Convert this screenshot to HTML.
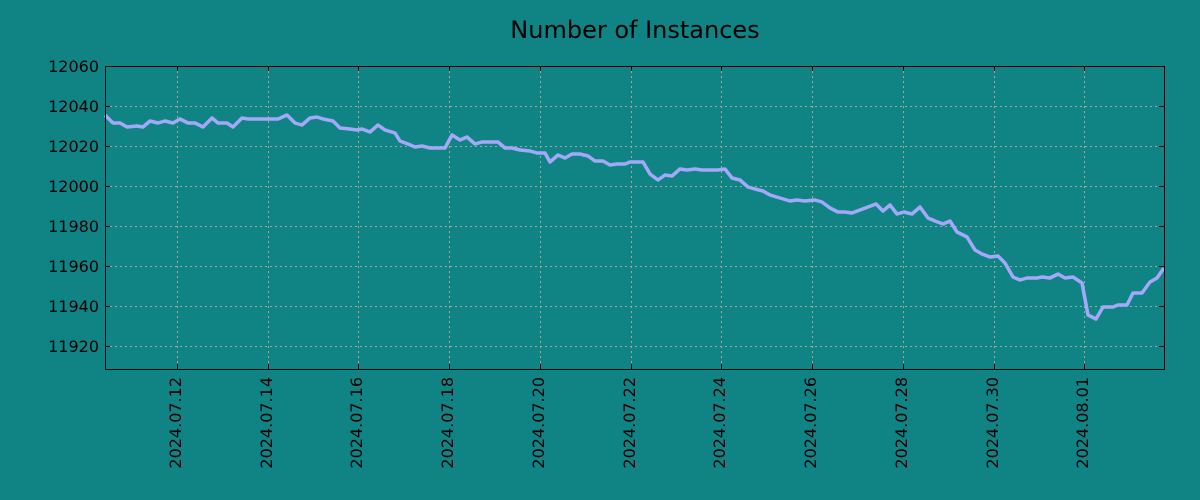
<!DOCTYPE html>
<html><head><style>
html,body{margin:0;padding:0;background:#108385;overflow:hidden;width:1200px;height:500px;}
svg{display:block;}
svg text{font-family:"DejaVu Sans","Liberation Sans",sans-serif;fill:#000;}
</style></head><body>
<svg width="1200" height="500" xmlns="http://www.w3.org/2000/svg">
<rect width="1200" height="500" fill="#108385"/>
<text x="635" y="38" font-size="24" text-anchor="middle">Number of Instances</text>
<g stroke="#c8b4a0" stroke-width="1" stroke-dasharray="2,3" opacity="0.8">
<line x1="105" x2="1164" y1="66.5" y2="66.5"/><line x1="105" x2="1164" y1="106.5" y2="106.5"/>
<line x1="105" x2="1164" y1="146.5" y2="146.5"/><line x1="105" x2="1164" y1="186.5" y2="186.5"/>
<line x1="105" x2="1164" y1="226.5" y2="226.5"/><line x1="105" x2="1164" y1="266.5" y2="266.5"/>
<line x1="105" x2="1164" y1="306.5" y2="306.5"/><line x1="105" x2="1164" y1="346.5" y2="346.5"/>
<line y1="66" y2="369" x1="177.5" x2="177.5"/><line y1="66" y2="369" x1="268.5" x2="268.5"/>
<line y1="66" y2="369" x1="358.5" x2="358.5"/><line y1="66" y2="369" x1="449.5" x2="449.5"/>
<line y1="66" y2="369" x1="540.5" x2="540.5"/><line y1="66" y2="369" x1="631.5" x2="631.5"/>
<line y1="66" y2="369" x1="721.5" x2="721.5"/><line y1="66" y2="369" x1="812.5" x2="812.5"/>
<line y1="66" y2="369" x1="903.5" x2="903.5"/><line y1="66" y2="369" x1="994.5" x2="994.5"/>
<line y1="66" y2="369" x1="1084.5" x2="1084.5"/>
</g>
<polyline fill="none" stroke="#a4a8f8" stroke-width="3.5" stroke-linejoin="round" points="105,115 113,123 120,123 127,127 137,126 143,127 150,121 158,123 165,121 173,123 180,119 188,123 195,123 203,127 212,118 218,123 227,123 233,127 242,118 248,119 278,119 287,115 295,123 302,125 310,118 317,117 323,119 333,121 340,128 350,129 357,130 362,129 370,132 378,125 385,130 395,133 400,141 408,144 415,147 422,146 430,148 445,148 452,135 460,140 467,137 475,144 482,142 498,142 505,148 512,148 520,150 530,151 537,153 545,153 550,162 558,155 565,158 572,154 580,154 588,156 595,161 603,161 610,165 617,164 625,164 630,162 643,162 650,174 658,180 665,175 672,176 680,169 687,170 695,169 702,170 718,170 725,169 732,178 740,180 748,187 755,189 763,191 770,195 780,198 790,201 797,200 805,201 815,200 822,202 830,208 838,212 845,212 852,213 860,210 868,207 876,204 883,211 890,205 897,214 904,212 912,214 920,207 928,218 935,221 943,224 950,221 957,232 967,237 975,250 982,254 990,257 998,256 1005,263 1013,277 1020,280 1027,278 1037,278 1042,277 1050,278 1058,274 1065,278 1073,277 1082,283 1088,315 1096,319 1103,307 1113,307 1118,305 1127,305 1133,293 1142,293 1150,282 1157,278 1164,268"/>
<rect x="105.5" y="66.5" width="1059" height="303" fill="none" stroke="#000" stroke-width="1"/>
<g stroke="#000" stroke-width="1">
<path d="M105 66.5h5M105 106.5h5M105 146.5h5M105 186.5h5M105 226.5h5M105 266.5h5M105 306.5h5M105 346.5h5"/>
<path d="M1164 66.5h-5M1164 106.5h-5M1164 146.5h-5M1164 186.5h-5M1164 226.5h-5M1164 266.5h-5M1164 306.5h-5M1164 346.5h-5"/>
<path d="M177.5 369v-5M268.5 369v-5M358.5 369v-5M449.5 369v-5M540.5 369v-5M631.5 369v-5M721.5 369v-5M812.5 369v-5M903.5 369v-5M994.5 369v-5M1084.5 369v-5"/>
<path d="M177.5 66v5M268.5 66v5M358.5 66v5M449.5 66v5M540.5 66v5M631.5 66v5M721.5 66v5M812.5 66v5M903.5 66v5M994.5 66v5M1084.5 66v5"/>
</g>
<g font-size="16" text-anchor="end">
<text x="99" y="72">12060</text><text x="99" y="112">12040</text><text x="99" y="152">12020</text>
<text x="99" y="192">12000</text><text x="99" y="232">11980</text><text x="99" y="272">11960</text>
<text x="99" y="312">11940</text><text x="99" y="352">11920</text>
</g>
<g font-size="16" text-anchor="end">
<text transform="translate(181,377) rotate(-90)">2024.07.12</text>
<text transform="translate(272,377) rotate(-90)">2024.07.14</text>
<text transform="translate(362,377) rotate(-90)">2024.07.16</text>
<text transform="translate(453,377) rotate(-90)">2024.07.18</text>
<text transform="translate(544,377) rotate(-90)">2024.07.20</text>
<text transform="translate(635,377) rotate(-90)">2024.07.22</text>
<text transform="translate(725,377) rotate(-90)">2024.07.24</text>
<text transform="translate(816,377) rotate(-90)">2024.07.26</text>
<text transform="translate(907,377) rotate(-90)">2024.07.28</text>
<text transform="translate(998,377) rotate(-90)">2024.07.30</text>
<text transform="translate(1088,377) rotate(-90)">2024.08.01</text>
</g>
</svg>
</body></html>
